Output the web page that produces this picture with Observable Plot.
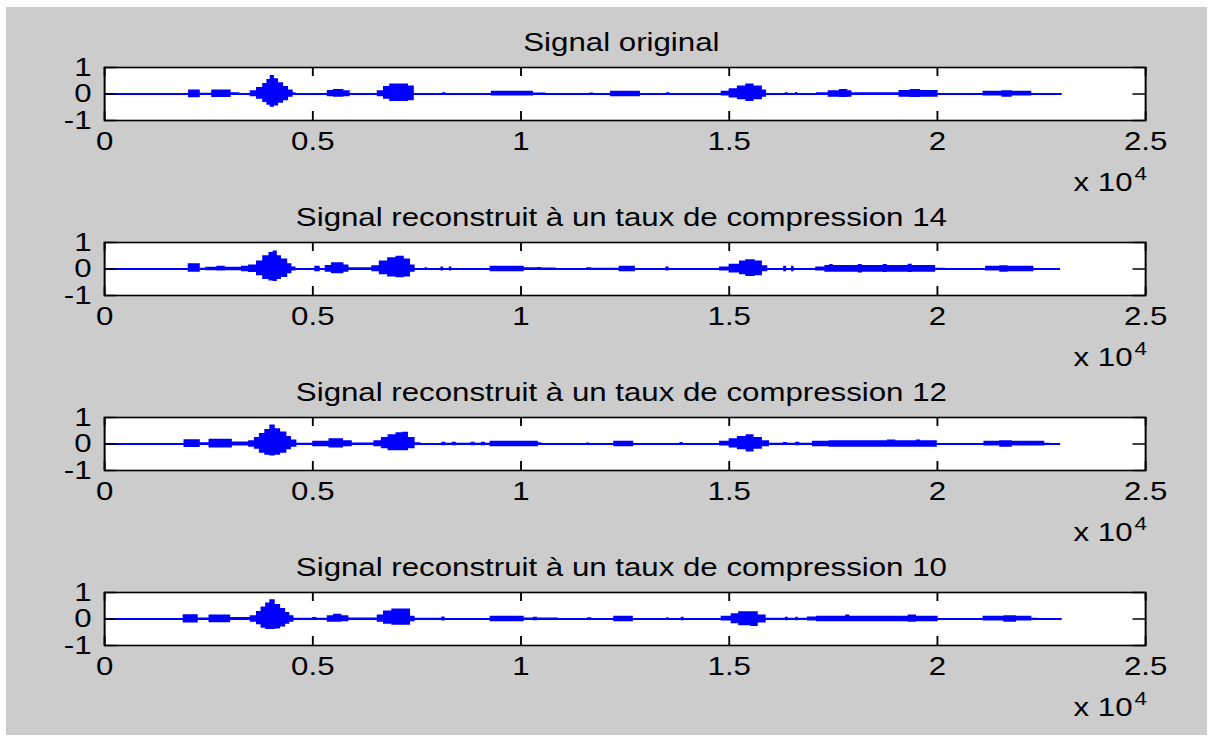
<!DOCTYPE html>
<html><head><meta charset="utf-8">
<script src="https://cdn.jsdelivr.net/npm/d3@7"></script>
<script src="https://cdn.jsdelivr.net/npm/@observablehq/plot@0.6"></script>
<style>
html,body{margin:0;padding:0;background:#ffffff;}
#wrap{position:relative;width:1214px;height:738px;overflow:hidden;background:#ffffff;}
#fig{position:absolute;left:6px;top:7px;width:1201px;height:728px;background:#cccccc;}
.panel{position:absolute;left:0;}
</style></head><body><div id="wrap"><div id="fig"></div></div>
<script>
// ---- data ----
const titles = [
  "Signal original",
  "Signal reconstruit à un taux de compression 14",
  "Signal reconstruit à un taux de compression 12",
  "Signal reconstruit à un taux de compression 10"
];
const xTicks = [0, 5000, 10000, 15000, 20000, 25000];
const xTickLabels = ["0", "0.5", "1", "1.5", "2", "2.5"];
const yTicks = [-1, 0, 1];
const yTickLabels = ["-1", "0", "1"];
const xExponentBase = "x 10";
const xExponent = "4";
const signalLength = [23000, 22960, 22960, 23000];

// envelope breakpoints: [sample, upper, lower] (held until next breakpoint)
const sigOriginal = [[0,0,0],[2020,0.15,-0.14],[2300,0.03,-0.03],[2575,0.15,-0.13],[3040,0.05,-0.05],[3250,0.02,-0.02],[3500,0.12,-0.1],[3650,0.25,-0.2],[3800,0.4,-0.32],[3900,0.55,-0.42],[3980,0.7,-0.5],[4080,0.58,-0.45],[4180,0.42,-0.35],[4300,0.28,-0.25],[4420,0.15,-0.12],[4530,0.05,-0.05],[4600,0,0],[5350,0.13,-0.1],[5500,0.17,-0.12],[5750,0.12,-0.1],[5900,0,0],[6550,0.12,-0.1],[6700,0.28,-0.2],[6850,0.38,-0.28],[7300,0.3,-0.25],[7440,0,0],[8120,0.05,-0.05],[8200,0,0],[9290,0.1,-0.08],[10300,0.04,-0.04],[10600,0,0],[11650,0.04,-0.04],[11750,0,0],[12150,0.1,-0.1],[12870,0,0],[13500,0.05,-0.05],[13580,0,0],[14810,0.1,-0.08],[15000,0.2,-0.15],[15200,0.3,-0.22],[15400,0.38,-0.28],[15600,0.3,-0.22],[15800,0.15,-0.12],[15900,0,0],[16350,0.05,-0.05],[16420,0,0],[16600,0.06,-0.06],[16650,0,0],[17100,0.05,-0.05],[17380,0.12,-0.12],[17650,0.17,-0.13],[17850,0.12,-0.12],[17950,0.05,-0.05],[19080,0.13,-0.12],[19350,0.17,-0.13],[19600,0.13,-0.12],[20020,0,0],[21100,0.1,-0.08],[21550,0.12,-0.12],[21800,0.1,-0.08],[22270,0,0],[23000,0,0]];

const sigTaux14 = [[0,0,0],[2010,0.2,-0.12],[2300,0.03,-0.03],[2430,0.07,-0.07],[2700,0.1,-0.08],[2900,0.07,-0.07],[3290,0.1,-0.1],[3460,0.15,-0.13],[3650,0.3,-0.25],[3800,0.5,-0.4],[3950,0.62,-0.45],[4050,0.68,-0.47],[4150,0.5,-0.4],[4250,0.38,-0.32],[4400,0.2,-0.18],[4500,0.08,-0.08],[4600,0,0],[5050,0.1,-0.1],[5180,0,0],[5300,0.13,-0.12],[5450,0.24,-0.18],[5750,0.15,-0.12],[5870,0.05,-0.05],[6420,0.12,-0.1],[6600,0.3,-0.22],[6800,0.42,-0.3],[7000,0.48,-0.33],[7200,0.38,-0.3],[7350,0.15,-0.12],[7460,0,0],[7700,0.05,-0.05],[7760,0,0],[8080,0.08,-0.08],[8140,0,0],[8280,0.08,-0.08],[8340,0,0],[9260,0.1,-0.1],[10080,0.05,-0.05],[10400,0.06,-0.06],[10500,0.04,-0.04],[10850,0,0],[11580,0.05,-0.05],[11700,0.03,-0.03],[12360,0.1,-0.1],[12750,0,0],[13480,0.08,-0.08],[13560,0,0],[14770,0.08,-0.08],[15000,0.18,-0.15],[15250,0.3,-0.22],[15400,0.35,-0.28],[15630,0.3,-0.25],[15800,0.12,-0.1],[15930,0,0],[16310,0.1,-0.1],[16380,0,0],[16500,0.1,-0.1],[16560,0,0],[17080,0.08,-0.08],[17300,0.13,-0.12],[17420,0.17,-0.12],[17500,0.13,-0.12],[18100,0.17,-0.15],[18200,0.13,-0.12],[18700,0.17,-0.13],[18800,0.13,-0.12],[19300,0.18,-0.13],[19400,0.13,-0.12],[19960,0.03,-0.03],[20200,0,0],[21160,0.1,-0.08],[21500,0.12,-0.12],[21700,0.1,-0.1],[22320,0,0],[22960,0,0]];

const sigTaux12 = [[0,0,0],[1910,0.16,-0.13],[2300,0.05,-0.05],[2510,0.18,-0.15],[3070,0.08,-0.08],[3460,0.12,-0.12],[3600,0.25,-0.2],[3720,0.4,-0.35],[3850,0.55,-0.42],[3970,0.72,-0.45],[4100,0.58,-0.42],[4230,0.45,-0.35],[4380,0.28,-0.22],[4490,0.15,-0.12],[4620,0.03,-0.03],[5000,0.1,-0.1],[5390,0.2,-0.15],[5740,0.12,-0.1],[5950,0.04,-0.04],[6470,0.12,-0.1],[6650,0.25,-0.18],[6810,0.35,-0.25],[7000,0.42,-0.25],[7160,0.44,-0.25],[7300,0.25,-0.18],[7460,0.05,-0.05],[7600,0,0],[8100,0.07,-0.07],[8200,0.03,-0.03],[8350,0.07,-0.07],[8450,0.03,-0.03],[8800,0.07,-0.07],[8900,0.03,-0.03],[9050,0.07,-0.07],[9150,0.03,-0.03],[9260,0.1,-0.1],[10420,0.05,-0.05],[10500,0,0],[11580,0.04,-0.04],[11650,0,0],[12230,0.1,-0.1],[12710,0,0],[13820,0.06,-0.06],[13900,0,0],[14770,0.1,-0.08],[15000,0.2,-0.15],[15200,0.28,-0.22],[15410,0.35,-0.3],[15600,0.25,-0.2],[15800,0.12,-0.1],[15970,0.03,-0.03],[16300,0.06,-0.06],[16400,0.03,-0.03],[16600,0.07,-0.07],[16700,0.03,-0.03],[17000,0.1,-0.1],[17400,0.12,-0.12],[18800,0.15,-0.12],[19000,0.12,-0.12],[19500,0.15,-0.12],[19600,0.12,-0.12],[20000,0,0],[21120,0.1,-0.08],[21500,0.12,-0.12],[21800,0.1,-0.08],[22580,0.03,-0.03],[22700,0,0],[22960,0,0]];

const sigTaux10 = [[0,0,0],[1890,0.16,-0.15],[2250,0.04,-0.04],[2510,0.15,-0.14],[3030,0.06,-0.06],[3500,0.12,-0.12],[3650,0.28,-0.22],[3760,0.45,-0.35],[3870,0.6,-0.4],[3970,0.73,-0.4],[4100,0.55,-0.38],[4230,0.4,-0.3],[4350,0.25,-0.2],[4450,0.12,-0.12],[4550,0.03,-0.03],[5000,0.06,-0.06],[5100,0.03,-0.03],[5350,0.12,-0.12],[5500,0.18,-0.12],[5700,0.12,-0.1],[5870,0.04,-0.04],[6550,0.15,-0.12],[6700,0.3,-0.2],[6900,0.38,-0.24],[7240,0.38,-0.24],[7350,0.1,-0.1],[7460,0.03,-0.03],[8100,0.08,-0.08],[8180,0,0],[9260,0.1,-0.1],[10080,0.04,-0.04],[10300,0.07,-0.07],[10400,0.04,-0.04],[10900,0,0],[11600,0.05,-0.05],[11700,0,0],[12230,0.1,-0.1],[12700,0,0],[13500,0.05,-0.05],[13560,0,0],[13850,0.07,-0.07],[13920,0,0],[14810,0.1,-0.08],[15050,0.2,-0.18],[15230,0.27,-0.25],[15520,0.27,-0.28],[15700,0.15,-0.15],[15890,0.03,-0.03],[16350,0.07,-0.07],[16420,0.03,-0.03],[16600,0.07,-0.07],[16660,0.03,-0.03],[16880,0.08,-0.08],[17100,0.1,-0.1],[17800,0.15,-0.1],[17900,0.1,-0.1],[19300,0.15,-0.12],[19500,0.1,-0.1],[20020,0,0],[21100,0.1,-0.08],[21600,0.12,-0.12],[21900,0.1,-0.08],[22270,0.03,-0.03],[22400,0,0],[23000,0,0]];

const signals = [sigOriginal, sigTaux14, sigTaux12, sigTaux10];

// ---- layout ----
const S = 1.25;          // horizontal stretch of the original figure
const W = 1214, H = 200;
const ML = 104, MR = 1214 - 1145, MT = 52, MB = 95;
const SW = W / S;
const frameW = SW - ML / S - MR / S;
const frameH = H - MT - MB;
const BLUE = "#0000ff";
const FONT = "'Liberation Sans', Arial, Helvetica, sans-serif";

const wrap = document.getElementById("wrap");
signals.forEach((sig, i) => {
  const env = sig.map(([x, up, lo]) => ({x, up, lo}));
  const base = [{y: 0, x1: 0, x2: signalLength[i]}];
  const svg = Plot.plot({
    width: SW, height: H,
    marginLeft: ML / S, marginRight: MR / S, marginTop: MT, marginBottom: MB,
    x: {domain: [0, 25000], label: null},
    y: {domain: [-1, 1], label: null},
    style: {background: "transparent", fontFamily: FONT, fontSize: "25px", color: "black", overflow: "visible"},
    marks: [
      Plot.frame({fill: "white", stroke: null}),
      Plot.areaY(env, {x: "x", y1: "lo", y2: "up", curve: "step-after", fill: BLUE}),
      Plot.ruleY(base, {y: "y", x1: "x1", x2: "x2", stroke: BLUE, strokeWidth: 1.8}),
      Plot.ruleX(xTicks, {x: d => d, insetTop: frameH - 9, stroke: "black", strokeWidth: 1.5}),
      Plot.ruleX(xTicks, {x: d => d, insetBottom: frameH - 9, stroke: "black", strokeWidth: 1.5}),
      Plot.ruleY(yTicks, {y: d => d, insetRight: frameW - 10, stroke: "black", strokeWidth: 1.5}),
      Plot.ruleY(yTicks, {y: d => d, insetLeft: frameW - 10, stroke: "black", strokeWidth: 1.5}),
      Plot.frame({stroke: "black", strokeWidth: 1.6}),
      Plot.axisX(xTicks, {tickSize: 0, tickPadding: 12, label: null, fontSize: 25, fill: "black",
        tickFormat: d => xTickLabels[xTicks.indexOf(d)]}),
      Plot.axisY(yTicks, {tickSize: 0, tickPadding: 10.4, label: null, fontSize: 25, fill: "black",
        tickFormat: d => yTickLabels[yTicks.indexOf(d)]}),
      Plot.text([titles[i]], {text: d => d, frameAnchor: "top", dx: -3, dy: -34, fontSize: 25, fill: "black"}),
      Plot.text([xExponentBase], {text: d => d, frameAnchor: "bottom-right", textAnchor: "end", dx: -10.4, dy: 70, fontSize: 25, fill: "black"}),
      Plot.text([xExponent], {text: d => d, frameAnchor: "bottom-right", textAnchor: "start", dx: -9, dy: 59, fontSize: 18, fill: "black"})
    ]
  });
  svg.setAttribute("width", W);
  svg.setAttribute("height", H);
  svg.setAttribute("viewBox", `0 0 ${SW} ${H}`);
  svg.setAttribute("preserveAspectRatio", "none");
  svg.style.width = W + "px";
  svg.style.height = H + "px";
  svg.style.maxWidth = "none";
  svg.classList.add("panel");
  svg.style.position = "absolute";
  svg.style.left = "0px";
  svg.style.top = (67 - MT + 175 * i) + "px";
  wrap.appendChild(svg);
});
</script>
</body></html>
